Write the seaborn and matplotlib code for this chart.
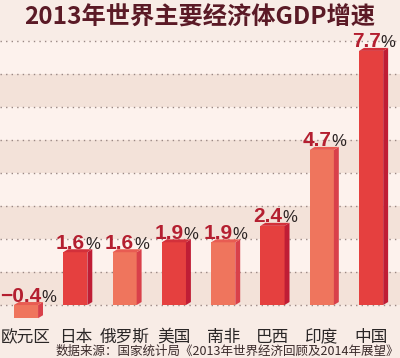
import matplotlib
matplotlib.use('Agg')
import matplotlib.pyplot as plt
import seaborn as sns
import pandas as pd
from matplotlib.patches import Polygon
from matplotlib.offsetbox import TextArea, HPacker, AnnotationBbox

# ---------------------------------------------------------
# data
# ---------------------------------------------------------
categories = ['欧元区', '日本', '俄罗斯', '美国', '南非', '巴西', '印度', '中国']
growth = [-0.4, 1.6, 1.6, 1.9, 1.9, 2.4, 4.7, 7.7]
value_labels = ['\u22120.4', '1.6', '1.6', '1.9', '1.9', '2.4', '4.7', '7.7']
title = '2013年世界主要经济体GDP增速'
source = '数据来源：国家统计局《2013年世界经济回顾及2014年展望》'

# ---------------------------------------------------------
# style
# ---------------------------------------------------------
bg = '#f8ece6'
band_light = '#fdf2ed'
band_dark = '#f3e2d9'
salmon, red = '#ef755d', '#e5403f'
side_salmon, side_red = '#d9404a', '#bf1d35'
top_salmon, top_red = '#e85c52', '#d3303a'
cjk = ['Noto Sans CJK SC', 'DejaVu Sans']
plt.rcParams['font.family'] = cjk

df = pd.DataFrame({'国家': categories, '增速': growth})
front = [salmon if i % 2 == 0 else red for i in range(len(categories))]
side = [side_salmon if i % 2 == 0 else side_red for i in range(len(categories))]
top = [top_salmon if i % 2 == 0 else top_red for i in range(len(categories))]

fig = plt.figure(figsize=(4.0, 3.58), dpi=100, facecolor=bg)
ax = fig.add_axes([0.0, 1 - 322 / 358, 1.0, 292 / 358])
ax.set_facecolor(bg)

# alternating bands + dotted grid
for k in range(8):
    ax.axhspan(k, k + 1, color=band_dark if k % 2 == 0 else band_light, zorder=0, lw=0)
for k in range(9):
    ax.axhline(k, color='#9a8884', lw=1.0, ls=(0, (1, 3)), zorder=0.5)

sns.barplot(data=df, x='国家', y='增速', hue='国家', palette=front, legend=False,
            width=0.49, saturation=1, ax=ax, zorder=2, linewidth=0)
bars = [b for c in ax.containers for b in c]

ax.set_xlim(-0.527, 7.586)
ax.set_ylim(-0.515, 8.333)

dx, dy = 0.1, 0.09
for i, p in enumerate(bars):
    x0 = p.get_x()
    x1 = x0 + p.get_width()
    y_a = p.get_y()
    y_b = y_a + p.get_height()
    lo, hi = min(y_a, y_b), max(y_a, y_b)
    ax.add_patch(Polygon([(x1, lo), (x1 + dx, lo + dy), (x1 + dx, hi + dy), (x1, hi)],
                         closed=True, fc=side[i], ec='none', zorder=2))
    ax.add_patch(Polygon([(x0, hi), (x0 + dx, hi + dy), (x1 + dx, hi + dy), (x1, hi)],
                         closed=True, fc=top[i], ec='none', zorder=2))

    # value label: number + smaller "%"
    num = TextArea(value_labels[i], textprops=dict(color='#b41f30', fontsize=15,
                                                   fontweight='bold',
                                                   family='Liberation Sans'))
    pct = TextArea('%', textprops=dict(color='#2a2222', fontsize=12,
                                       family='Liberation Sans'))
    box = HPacker(children=[num, pct], align='baseline', pad=0, sep=0)
    ab = AnnotationBbox(box, ((x0 + x1) / 2 + dx / 2, max(hi, 0) + dy),
                        xybox=(0, -2.5), xycoords='data', boxcoords='offset points',
                        box_alignment=(0.5, 0), frameon=False, zorder=3)
    ax.add_artist(ab)

for s in ax.spines.values():
    s.set_visible(False)
ax.set_yticks([])
ax.set_xlabel('')
ax.set_ylabel('')
ax.tick_params(axis='x', length=0, pad=5, labelsize=12, labelcolor='#2a2626')
ax.set_xticks(range(len(categories)))
ax.set_xticklabels(categories)
for t in ax.get_xticklabels():
    t.set_family(cjk)

fig.text(0.5, 1 - 18 / 358, title, ha='center', va='center', fontsize=17.5,
         fontweight='bold', color='#5b1a26', family=cjk)
fig.text(399 / 400, 1 - 351 / 358, source, ha='right', va='center', fontsize=9,
         color='#3a2a2a', family=cjk)

fig.savefig('out.png', dpi=100, facecolor=bg)
